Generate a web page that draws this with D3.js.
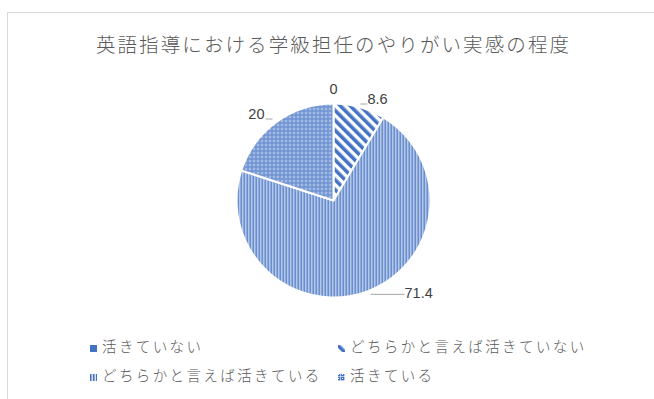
<!DOCTYPE html>
<html><head><meta charset="utf-8">
<script src="https://cdn.jsdelivr.net/npm/d3@7"></script>
<style>body{margin:0;background:#fff}svg{display:block}</style>
</head><body>
<svg id="c" width="654" height="399"></svg>
<script>
const title = "英語指導における学級担任のやりがい実感の程度";
const categories = ["活きていない","どちらかと言えば活きていない","どちらかと言えば活きている","活きている"];
const values = [0, 8.6, 71.4, 20];
const labels = ["0","8.6","71.4","20"];

const W=654,H=399, cx=333.5, cy=200.5, R=97;
const blue="#4472C4";
const svg=d3.select("#c");
const defs=svg.append("defs");

const pd = defs.append("pattern").attr("id","pDiag").attr("patternUnits","userSpaceOnUse")
  .attr("width",7).attr("height",7).attr("patternTransform","rotate(-45)");
pd.append("rect").attr("width",7).attr("height",7).attr("fill","#fff");
pd.append("rect").attr("width",3.6).attr("height",7).attr("fill",blue);

const pv = defs.append("pattern").attr("id","pVert").attr("patternUnits","userSpaceOnUse")
  .attr("width",3).attr("height",4);
pv.append("rect").attr("width",3).attr("height",4).attr("fill","#fff");
pv.append("rect").attr("x",0).attr("width",1.5).attr("height",4).attr("fill",blue);
pv.append("rect").attr("x",1.5).attr("width",0.8).attr("height",4).attr("fill","#7f9fd6");

const pg = defs.append("pattern").attr("id","pGrid").attr("patternUnits","userSpaceOnUse")
  .attr("width",4).attr("height",4);
pg.append("rect").attr("width",4).attr("height",4).attr("fill",blue);
pg.append("rect").attr("width",4).attr("height",1).attr("fill","#fff").attr("opacity",0.6);
pg.append("rect").attr("width",1).attr("height",4).attr("fill","#fff").attr("opacity",0.6);
pg.append("rect").attr("x",2).attr("y",2).attr("width",1).attr("height",1).attr("fill","#fff");

const fills=[blue,"url(#pDiag)","url(#pVert)","url(#pGrid)"];

svg.append("rect").attr("x",7.5).attr("y",12.5).attr("width",700).attr("height",450)
  .attr("fill","none").attr("stroke","#d9d9d9").attr("stroke-width",1);

svg.append("text").attr("x",cx).attr("y",52).attr("text-anchor","middle")
  .attr("font-family","'Noto Sans CJK JP'").attr("font-weight",300).attr("font-size",19.5).attr("letter-spacing",2.1)
  .attr("fill","#595959").text(title);

const pie=d3.pie().sort(null).value(d=>d);
const arcs=pie(values);
const arc=d3.arc().innerRadius(0).outerRadius(R);
const g=svg.append("g").attr("transform",`translate(${cx},${cy})`);
g.selectAll("path").data(arcs).join("path")
  .attr("d",arc).attr("fill",(d,i)=>fills[i])
  .attr("stroke","#fff").attr("stroke-width",2).attr("stroke-linejoin","round");

const edge=d3.arc().innerRadius(R).outerRadius(R);
const font="'Liberation Sans', Arial, sans-serif";
arcs.forEach((a,i)=>{
  const m=(a.startAngle+a.endAngle)/2;
  const [ex,ey]=edge.centroid(a);
  let tx,ty,anchor,lx1,lx2,ly;
  if(a.value===0){
    tx=Math.sin(m)*(R+11); ty=-Math.cos(m)*(R+11)+1; anchor="middle";
  } else if(Math.sin(m)>0 && Math.cos(m)>0){
    lx1=ex+1; lx2=ex+8; ly=ey-3; tx=lx2; ty=ly; anchor="start";
  } else if(Math.sin(m)>0){
    lx1=ex+3; lx2=ex+37; ly=ey+3; tx=lx2; ty=ly+4; anchor="start";
  } else {
    lx1=ex-11; lx2=ex-4; ly=ey-3; tx=lx1-1; ty=ly; anchor="end";
  }
  if(lx1!==undefined){
    g.append("line").attr("x1",lx1).attr("x2",lx2).attr("y1",ly).attr("y2",ly)
      .attr("stroke","#a6a6a6").attr("stroke-width",1);
  }
  g.append("text").attr("x",tx).attr("y",ty).attr("text-anchor",anchor)
    .attr("font-family",font).attr("font-size",14.5).attr("fill","#404040").text(labels[i]);
});

const legPos=[[90,352],[338,352],[90,381],[338,381]];
categories.forEach((c,i)=>{
  const [x,y]=legPos[i];
  svg.append("rect").attr("x",x).attr("y",y-7).attr("width",7).attr("height",7).attr("fill",fills[i]);
  svg.append("text").attr("x",x+12).attr("y",y).attr("font-family","'Noto Sans CJK JP'").attr("font-weight",300)
    .attr("font-size",14.5).attr("letter-spacing",2.4).attr("fill","#595959").text(c);
});
</script>
</body></html>
